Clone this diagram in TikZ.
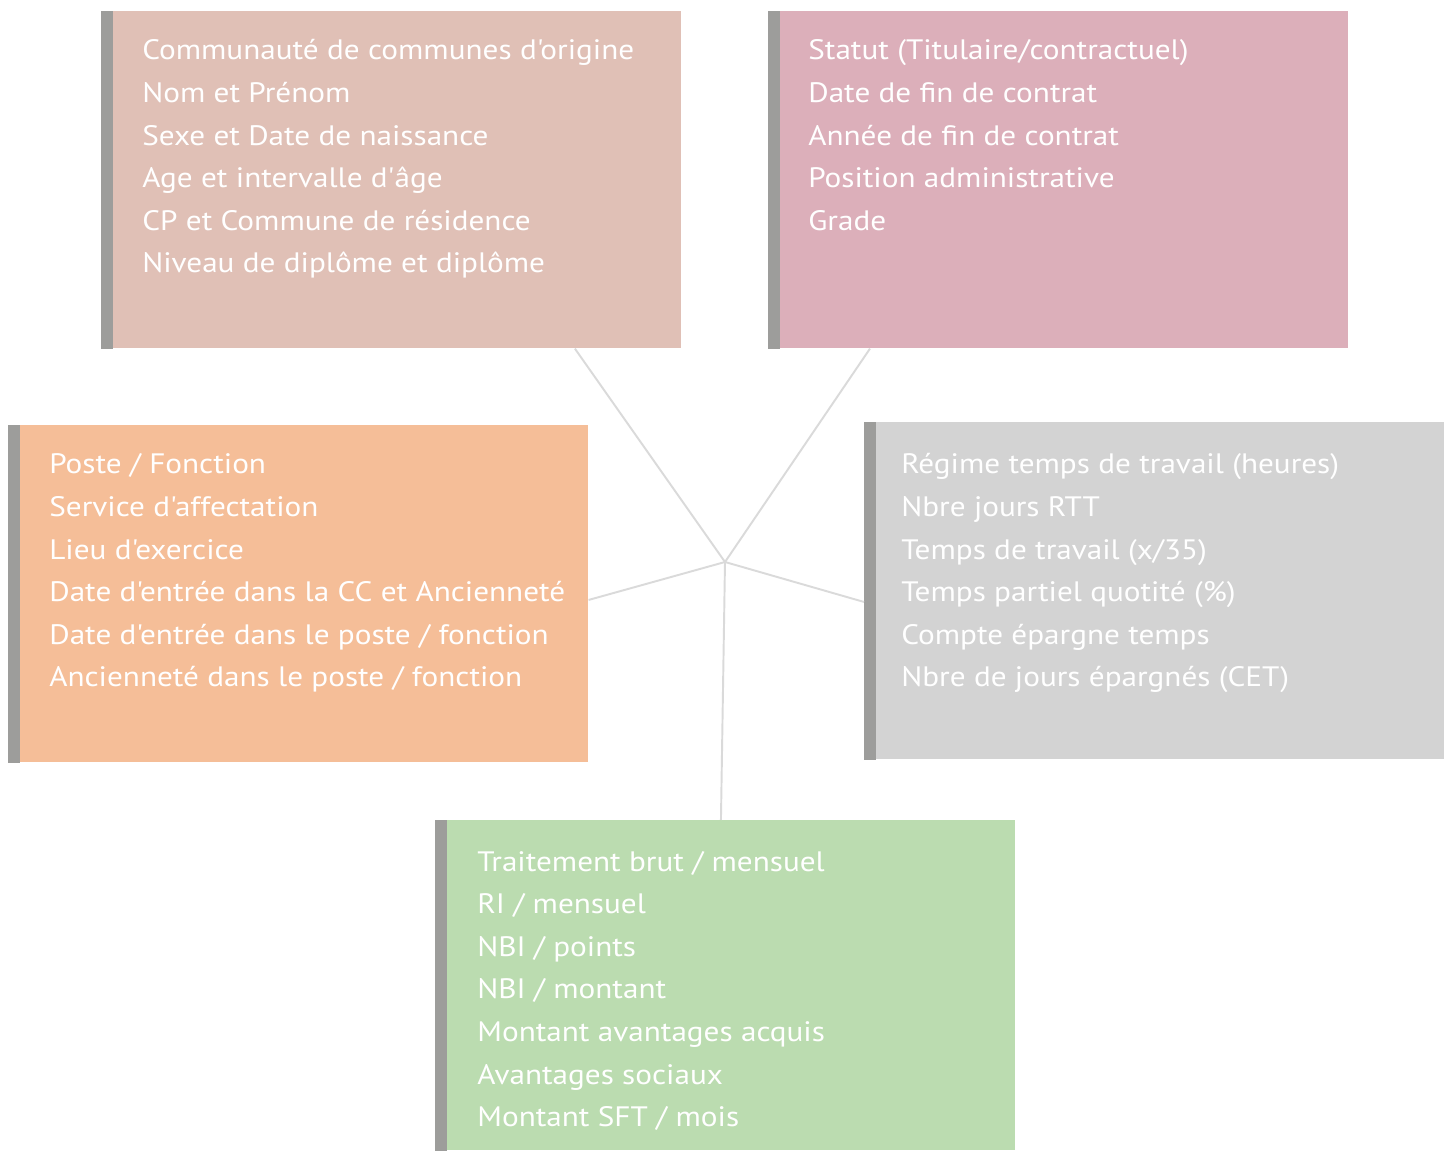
\documentclass[tikz,border=0pt]{standalone}
\usepackage{fontspec}
\setmainfont{PT Sans}[Ligatures=TeXOff, FakeStretch=1.11]
\usepackage{xcolor}
\usetikzlibrary{positioning,calc}

\definecolor{idcol}{HTML}{E0C0B6}
\definecolor{statcol}{HTML}{DCAFBA}
\definecolor{postcol}{HTML}{F5BE98}
\definecolor{tempscol}{HTML}{D3D3D3}
\definecolor{paycol}{HTML}{BBDCB0}
\definecolor{barcol}{HTML}{9D9D9B}
\definecolor{linkcol}{HTML}{DADADA}

\tikzset{
  box/.style={anchor=north west, inner sep=0pt, minimum width=11.6cm, minimum height=6.74cm},
  bar/.style={fill=barcol},
  item/.style={anchor=base west, inner sep=0pt, text=white, font=\fontsize{16}{19}\selectfont},
  link/.style={draw=linkcol, line width=1.1pt}
}

\begin{document}
\begin{tikzpicture}[x=0.02cm, y=-0.02cm]
    \useasboundingbox (0,0) rectangle (1451,1151);

    % identite
    \node [box, fill=idcol] (ident) at (101,11) {};
    \fill [bar] (ident.north west) rectangle ([xshift=0.24cm]ident.south west);
    \foreach \t [count=\i] in {Communauté de communes d'origine, Nom et Prénom,
        Sexe et Date de naissance, Age et intervalle d'âge,
        CP et Commune de résidence, Niveau de diplôme et diplôme}
      \node [item] (ident-\i) at (142, 60+42.6*\i-42.6) {\t};

    % statut
    \node [box, fill=statcol] (statut) at (768,11) {};
    \fill [bar] (statut.north west) rectangle ([xshift=0.24cm]statut.south west);
    \foreach \t [count=\i] in {Statut (Titulaire/contractuel), Date de fin de contrat,
        Année de fin de contrat, Position administrative, Grade}
      \node [item] (statut-\i) at (808, 60+42.6*\i-42.6) {\t};

    % poste
    \node [box, fill=postcol] (poste) at (8,425) {};
    \fill [bar] (poste.north west) rectangle ([xshift=0.24cm]poste.south west);
    \foreach \t [count=\i] in {Poste / Fonction, Service d'affectation, Lieu d'exercice,
        Date d'entrée dans la CC et Ancienneté, Date d'entrée dans le poste / fonction,
        Ancienneté dans le poste / fonction}
      \node [item] (poste-\i) at (49, 474+42.6*\i-42.6) {\t};

    % temps de travail
    \node [box, fill=tempscol] (temps) at (864,422) {};
    \fill [bar] (temps.north west) rectangle ([xshift=0.24cm]temps.south west);
    \foreach \t [count=\i] in {Régime temps de travail (heures), Nbre jours RTT,
        Temps de travail (x/35), Temps partiel quotité (\%), Compte épargne temps,
        Nbre de jours épargnés (CET)}
      \node [item] (temps-\i) at (901, 474+42.6*\i-42.6) {\t};

    % remuneration
    \node [box, fill=paycol, minimum height=6.6cm] (paie) at (435,820) {};
    \fill [bar] (paie.north west) rectangle ([xshift=0.24cm]paie.south west);
    \foreach \t [count=\i] in {Traitement brut / mensuel, RI / mensuel, NBI / points,
        NBI / montant, Montant avantages acquis, Avantages sociaux, Montant SFT / mois}
      \node [item] (paie-\i) at (477, 871+42.6*\i-42.6) {\t};

    % liens
    \coordinate (hub) at (725,562);
    \draw [link] (hub) -- ([xshift=9.48cm]ident.south west);
    \draw [link] (hub) -- ([xshift=2.04cm]statut.south west);
    \draw [link] (hub) -- ([yshift=-3.5cm]poste.north east);
    \draw [link] (hub) -- ([yshift=-3.6cm]temps.north west);
    \draw [link] (hub) -- ([xshift=5.72cm]paie.north west);
\end{tikzpicture}
\end{document}
